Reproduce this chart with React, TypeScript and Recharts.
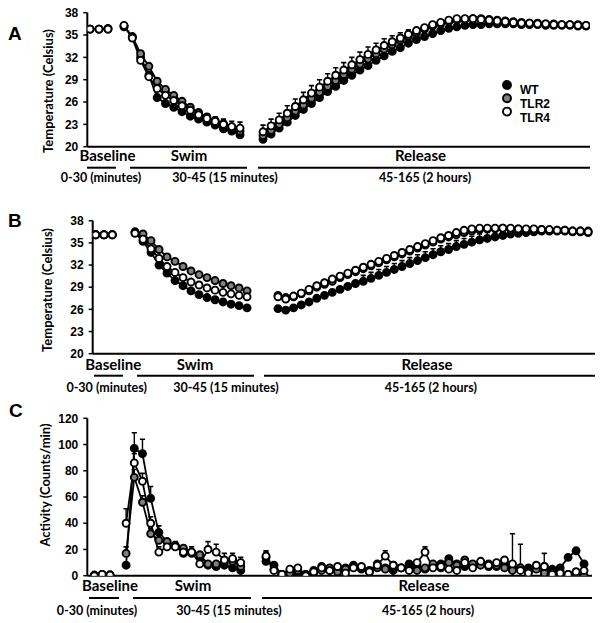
import React from 'react';
import { LineChart, Line, XAxis, YAxis } from 'recharts';

const SERIES = ['WT', 'TLR2', 'TLR4'];
const FILLS: Record<string, string> = { WT: '#000000', TLR2: '#808080', TLR4: '#ffffff' };
const SECTION_LABELS = ['Baseline', 'Swim', 'Release'];
const SECTION_RANGES = ['0-30 (minutes)', '30-45 (15 minutes)', '45-165 (2 hours)'];
const TEMP_TICKS = [20, 23, 26, 29, 32, 35, 38];
const ACT_TICKS = [0, 20, 40, 60, 80, 100, 120];

// ---------- Panel A : temperature ----------
const A_WT_base = [35.8, 35.8, 35.8];
const A_TLR2_base = [35.8, 35.8, 35.9];
const A_TLR4_base = [35.8, 35.8, 35.8];
const A_base_err = [0.1, 0.1, 0.1];
const A_WT_swim = [36.2, 34.7, 32.0, 29.6, 26.6, 25.8, 25.3, 24.7, 24.1, 23.7, 23.3, 22.9, 22.4, 22.1, 21.6];
const A_TLR2_swim = [36.1, 34.8, 32.5, 30.8, 28.8, 27.7, 26.9, 26.1, 25.3, 24.6, 24.0, 23.5, 23.1, 22.6, 22.1];
const A_TLR4_swim = [36.3, 34.6, 31.6, 29.4, 27.8, 26.9, 26.2, 25.5, 24.9, 24.3, 23.8, 23.4, 23.0, 22.7, 22.5];
const A_WT_swimErr = [0.2, 0.2, 0.3, 0.3, 0.3, 0.3, 0.3, 0.3, 0.3, 0.3, 0.3, 0.3, 0.3, 0.3, 0.3];
const A_TLR2_swimErr = [0.2, 0.2, 0.3, 0.3, 0.3, 0.3, 0.3, 0.3, 0.3, 0.3, 0.3, 0.3, 0.3, 0.3, 0.3];
const A_TLR4_swimErr = [0.2, 0.2, 0.3, 0.4, 0.4, 0.4, 0.5, 0.5, 0.5, 0.6, 0.6, 0.6, 0.7, 0.7, 0.8];
const A_WT_rel = [21.0, 21.7, 22.5, 23.3, 24.2, 25.0, 25.8, 26.6, 27.4, 28.1, 28.9, 29.6, 30.3, 30.9, 31.6, 32.2, 32.8, 33.3, 33.9, 34.4, 34.8, 35.2, 35.6, 35.9, 36.1, 36.3, 36.4, 36.4, 36.5, 36.5, 36.5, 36.5, 36.4, 36.4, 36.4, 36.3, 36.3, 36.3, 36.3, 36.2, 36.2];
const A_TLR2_rel = [21.5, 22.2, 23.0, 23.9, 24.8, 25.6, 26.5, 27.3, 28.1, 28.9, 29.7, 30.4, 31.1, 31.8, 32.5, 33.1, 33.7, 34.3, 34.8, 35.3, 35.8, 36.2, 36.5, 36.8, 37.0, 37.1, 37.2, 37.2, 37.1, 37.0, 36.9, 36.8, 36.7, 36.6, 36.6, 36.5, 36.5, 36.4, 36.4, 36.4, 36.3];
const A_TLR4_rel = [22.0, 22.8, 23.6, 24.5, 25.4, 26.3, 27.2, 28.0, 28.8, 29.6, 30.3, 31.0, 31.7, 32.4, 33.0, 33.6, 34.1, 34.6, 35.1, 35.6, 36.0, 36.4, 36.7, 37.0, 37.2, 37.2, 37.2, 37.1, 37.0, 36.9, 36.8, 36.7, 36.6, 36.6, 36.5, 36.5, 36.4, 36.4, 36.4, 36.3, 36.3];
const A_WT_relErr = [0.3, 0.3, 0.3, 0.3, 0.3, 0.3, 0.3, 0.3, 0.3, 0.3, 0.3, 0.3, 0.3, 0.3, 0.3, 0.3, 0.3, 0.3, 0.3, 0.3, 0.3, 0.3, 0.3, 0.2, 0.2, 0.2, 0.2, 0.2, 0.2, 0.2, 0.2, 0.2, 0.2, 0.2, 0.2, 0.2, 0.2, 0.2, 0.2, 0.2, 0.2];
const A_TLR2_relErr = [0.4, 0.4, 0.4, 0.4, 0.4, 0.4, 0.4, 0.4, 0.4, 0.4, 0.4, 0.4, 0.4, 0.4, 0.4, 0.4, 0.4, 0.4, 0.3, 0.3, 0.3, 0.3, 0.3, 0.2, 0.2, 0.2, 0.2, 0.2, 0.2, 0.2, 0.2, 0.2, 0.2, 0.2, 0.2, 0.2, 0.2, 0.2, 0.2, 0.2, 0.2];
const A_TLR4_relErr = [0.9, 0.9, 0.9, 1.0, 1.0, 1.0, 1.0, 1.0, 1.0, 1.0, 1.0, 1.0, 1.0, 1.0, 0.9, 0.9, 0.8, 0.7, 0.6, 0.5, 0.4, 0.3, 0.3, 0.2, 0.2, 0.2, 0.2, 0.2, 0.2, 0.2, 0.2, 0.2, 0.2, 0.2, 0.2, 0.2, 0.2, 0.2, 0.2, 0.2, 0.2];

// ---------- Panel B : temperature ----------
const B_WT_base = [36.1, 36.1, 36.1];
const B_TLR2_base = [36.1, 36.1, 36.1];
const B_TLR4_base = [36.1, 36.1, 36.1];
const B_base_err = [0.1, 0.1, 0.1];
const B_WT_swim = [36.4, 35.2, 33.7, 32.0, 30.9, 29.9, 29.2, 28.5, 28.0, 27.6, 27.3, 27.0, 26.7, 26.5, 26.2];
const B_TLR2_swim = [36.5, 36.2, 35.3, 34.1, 33.1, 32.5, 31.8, 31.2, 30.7, 30.3, 29.9, 29.5, 29.2, 28.9, 28.5];
const B_TLR4_swim = [36.3, 35.5, 34.2, 32.9, 31.8, 31.0, 30.3, 29.7, 29.3, 28.9, 28.6, 28.3, 28.1, 27.9, 27.7];
const B_swimErr = [0.2, 0.2, 0.2, 0.2, 0.2, 0.2, 0.2, 0.2, 0.2, 0.2, 0.2, 0.2, 0.2, 0.2, 0.2];
const B_WT_rel = [26.1, 25.9, 26.2, 26.6, 27.0, 27.5, 27.9, 28.3, 28.7, 29.1, 29.5, 29.8, 30.2, 30.6, 31.0, 31.4, 31.8, 32.2, 32.6, 33.0, 33.4, 33.8, 34.1, 34.5, 34.8, 35.1, 35.4, 35.6, 35.8, 36.0, 36.2, 36.3, 36.4, 36.5, 36.6, 36.6, 36.6, 36.6, 36.5, 36.5, 36.4];
const B_TLR2_rel = [27.9, 27.6, 27.7, 28.1, 28.5, 29.0, 29.4, 29.8, 30.3, 30.7, 31.1, 31.5, 31.9, 32.3, 32.7, 33.1, 33.5, 33.9, 34.3, 34.7, 35.1, 35.5, 35.8, 36.1, 36.4, 36.6, 36.8, 36.9, 36.9, 37.0, 36.9, 36.9, 36.8, 36.8, 36.8, 36.7, 36.7, 36.7, 36.6, 36.6, 36.6];
const B_TLR4_rel = [27.7, 27.4, 27.8, 28.2, 28.7, 29.2, 29.6, 30.1, 30.5, 30.9, 31.3, 31.7, 32.1, 32.5, 32.9, 33.3, 33.7, 34.1, 34.5, 34.9, 35.3, 35.7, 36.0, 36.4, 36.7, 36.9, 37.0, 37.0, 37.0, 37.0, 37.0, 36.9, 36.9, 36.9, 36.8, 36.8, 36.7, 36.7, 36.6, 36.6, 36.5];
const B_WT_relErr = [0.3, 0.3, 0.3, 0.3, 0.3, 0.3, 0.3, 0.3, 0.3, 0.3, 0.5, 0.8, 0.8, 0.8, 0.8, 0.8, 0.8, 0.8, 0.8, 0.8, 0.8, 0.8, 0.8, 0.8, 0.8, 0.8, 0.8, 0.8, 0.8, 0.8, 0.8, 0.7, 0.6, 0.5, 0.3, 0.3, 0.3, 0.3, 0.3, 0.3, 0.3];
const B_other_relErr = [0.2, 0.2, 0.2, 0.2, 0.2, 0.2, 0.2, 0.2, 0.2, 0.2, 0.2, 0.2, 0.2, 0.2, 0.2, 0.2, 0.2, 0.2, 0.2, 0.2, 0.2, 0.2, 0.2, 0.2, 0.2, 0.2, 0.2, 0.2, 0.2, 0.2, 0.2, 0.2, 0.2, 0.2, 0.2, 0.2, 0.2, 0.2, 0.2, 0.2, 0.2];

// ---------- Panel C : activity ----------
const C_WT_base = [0, 0.5, 0.5];
const C_TLR2_base = [0.5, 1, 0.5];
const C_TLR4_base = [0, 1, 0.5];
const C_base_err = [0.5, 0.5, 0.5];
const C_WT_swim = [8, 97, 93, 59, 33, 26, 23, 17, 17, 15, 8, 7, 8, 6, 4];
const C_TLR2_swim = [17, 75, 56, 32, 27, 26, 23, 21, 18, 16, 9, 9, 11, 11, 7];
const C_TLR4_swim = [40, 86, 72, 40, 18, 22, 22, 18, 18, 9, 20, 18, 12, 13, 10];
const C_WT_swimErr = [2, 12, 11, 9, 5, 3, 3, 3, 3, 3, 2, 2, 2, 2, 2];
const C_TLR2_swimErr = [5, 6, 5, 4, 3, 3, 3, 3, 3, 3, 2, 2, 2, 2, 2];
const C_TLR4_swimErr = [11, 7, 6, 5, 4, 4, 4, 4, 4, 4, 6, 6, 5, 4, 4];
const C_WT_rel = [11, 8, 1, 3, 2, 1, 2, 7, 4, 5, 6, 8, 5, 4, 9, 6, 4, 6, 9, 7, 5, 8, 9, 13, 9, 7, 8, 10, 9, 7, 8, 5, 6, 6, 6, 7, 5, 6, 14, 19, 9];
const C_TLR2_rel = [14, 5, 1, 2, 4, 1, 4, 4, 6, 3, 5, 7, 6, 3, 6, 5, 8, 6, 5, 4, 6, 9, 6, 10, 8, 12, 9, 8, 7, 8, 6, 4, 6, 3, 5, 2, 1, 3, 1, 1, 0];
const C_TLR4_rel = [15, 4, 1, 5, 6, 0, 3, 6, 4, 7, 2, 6, 7, 3, 8, 15, 8, 6, 4, 10, 18, 6, 7, 5, 4, 10, 6, 11, 8, 10, 12, 9, 4, 2, 8, 7, 1, 2, 1, 3, 4];
const C_WT_relErr = [4, 2, 1, 1, 1, 1, 1, 2, 2, 2, 2, 2, 2, 2, 2, 2, 2, 2, 2, 2, 2, 2, 2, 2, 2, 2, 2, 2, 2, 2, 2, 2, 18, 2, 2, 2, 2, 2, 2, 3, 2];
const C_TLR2_relErr = [4, 2, 1, 1, 1, 1, 1, 2, 2, 2, 2, 2, 2, 2, 2, 2, 2, 2, 2, 2, 2, 2, 2, 5, 2, 2, 2, 2, 2, 2, 2, 2, 2, 2, 2, 2, 2, 2, 2, 1, 1];
const C_TLR4_relErr = [4, 2, 1, 2, 3, 1, 1, 2, 2, 2, 2, 2, 2, 2, 2, 4, 2, 2, 2, 2, 4, 2, 2, 2, 2, 2, 2, 2, 2, 2, 2, 23, 2, 2, 2, 10, 2, 2, 1, 1, 1];

type Sec = { WT: number[]; TLR2: number[]; TLR4: number[]; eWT: number[]; eTLR2: number[]; eTLR4: number[] };

function buildRows(secs: Sec[], starts: number[], steps: number[]) {
  const rows: any[] = [];
  secs.forEach((s, k) => {
    if (k > 0) rows.push({ x: starts[k] - 1, WT: null, TLR2: null, TLR4: null });
    s.WT.forEach((_, i) => {
      rows.push({
        x: starts[k] + i * steps[k],
        WT: s.WT[i], TLR2: s.TLR2[i], TLR4: s.TLR4[i],
        eWT: s.eWT[i], eTLR2: s.eTLR2[i], eTLR4: s.eTLR4[i],
      });
    });
  });
  return rows;
}

const rowsA = buildRows(
  [
    { WT: A_WT_base, TLR2: A_TLR2_base, TLR4: A_TLR4_base, eWT: A_base_err, eTLR2: A_base_err, eTLR4: A_base_err },
    { WT: A_WT_swim, TLR2: A_TLR2_swim, TLR4: A_TLR4_swim, eWT: A_WT_swimErr, eTLR2: A_TLR2_swimErr, eTLR4: A_TLR4_swimErr },
    { WT: A_WT_rel, TLR2: A_TLR2_rel, TLR4: A_TLR4_rel, eWT: A_WT_relErr, eTLR2: A_TLR2_relErr, eTLR4: A_TLR4_relErr },
  ],
  [0, 4.2, 21.36],
  [1.11, 1.023, 0.997]
);
const rowsB = buildRows(
  [
    { WT: B_WT_base, TLR2: B_TLR2_base, TLR4: B_TLR4_base, eWT: B_base_err, eTLR2: B_base_err, eTLR4: B_base_err },
    { WT: B_WT_swim, TLR2: B_TLR2_swim, TLR4: B_TLR4_swim, eWT: B_swimErr, eTLR2: B_swimErr, eTLR4: B_swimErr },
    { WT: B_WT_rel, TLR2: B_TLR2_rel, TLR4: B_TLR4_rel, eWT: B_WT_relErr, eTLR2: B_other_relErr, eTLR4: B_other_relErr },
  ],
  [0, 5.04, 23.37],
  [1.064, 1.026, 0.994]
);
const rowsC = buildRows(
  [
    { WT: C_WT_base, TLR2: C_TLR2_base, TLR4: C_TLR4_base, eWT: C_base_err, eTLR2: C_base_err, eTLR4: C_base_err },
    { WT: C_WT_swim, TLR2: C_TLR2_swim, TLR4: C_TLR4_swim, eWT: C_WT_swimErr, eTLR2: C_TLR2_swimErr, eTLR4: C_TLR4_swimErr },
    { WT: C_WT_rel, TLR2: C_TLR2_rel, TLR4: C_TLR4_rel, eWT: C_WT_relErr, eTLR2: C_TLR2_relErr, eTLR4: C_TLR4_relErr },
  ],
  [0, 4.0, 21.6],
  [0.99, 1.03, 1.0]
);

const TICK_FONT = { fontSize: 12, fontWeight: 700, fill: '#000', fontFamily: '"Liberation Sans", Arial, sans-serif' };
const DOT_R = 3.5;

function Panel(props: any) {
  const { top, height, plotTop, plotBottom, axisX, right, x0, step, yDomain, yTicks, rows } = props;
  const margin = { top: plotTop - top, bottom: top + height - plotBottom - 1, left: axisX - 40, right: 604 - right };
  const domainX = [-(x0 - axisX) / step, (right - x0) / step];
  const pxPerUnit = (plotBottom - plotTop) / (yDomain[1] - yDomain[0]);

  // upward-only error bar, drawn beneath the markers
  const errDot = (s: string) => (p: any) => {
    const e = p.payload ? p.payload['e' + s] : null;
    if (p.cx == null || p.cy == null || e == null) return <g key={`e-${s}-${p.index}`} />;
    const len = e * pxPerUnit;
    if (len < DOT_R + 0.5) return <g key={`e-${s}-${p.index}`} />;
    const topY = p.cy - len;
    return (
      <g key={`e-${s}-${p.index}`}>
        <line x1={p.cx} x2={p.cx} y1={p.cy} y2={topY} stroke="#000" strokeWidth={1.4} />
        <line x1={p.cx - 2.6} x2={p.cx + 2.6} y1={topY} y2={topY} stroke="#000" strokeWidth={1.6} />
      </g>
    );
  };

  return (
    <div style={{ position: 'absolute', left: 0, top }}>
      <LineChart width={604} height={height} data={rows} margin={margin}>
        <XAxis type="number" dataKey="x" domain={domainX} allowDataOverflow tick={false} tickLine={false} height={1}
          axisLine={{ stroke: '#000', strokeWidth: 2 }} />
        <YAxis type="number" domain={yDomain} ticks={yTicks} interval={0} width={40} tickSize={4} tickMargin={5}
          allowDataOverflow axisLine={{ stroke: '#000', strokeWidth: 2 }} tickLine={{ stroke: '#000', strokeWidth: 1.5 }}
          tick={TICK_FONT} />
        {SERIES.map((s) => (
          <Line key={'err' + s} dataKey={s} type="linear" stroke="none" isAnimationActive={false}
            connectNulls={false} activeDot={false} legendType="none" dot={errDot(s)} />
        ))}
        {SERIES.map((s) => (
          <Line key={s} dataKey={s} type="linear" stroke="#000" strokeWidth={1.8} isAnimationActive={false}
            connectNulls={false} activeDot={false}
            dot={{ r: DOT_R, fill: FILLS[s], stroke: '#000', strokeWidth: 1.9 }} />
        ))}
      </LineChart>
    </div>
  );
}

const LABEL_FONT = 'Lato, "Open Sans", sans-serif';

function Annotations(props: any) {
  const { secY, lineY, rangeY, secX, rangeX, lines } = props;
  return (
    <g>
      {SECTION_LABELS.map((t, i) => (
        <text key={t} x={secX[i]} y={secY} textAnchor="middle" dominantBaseline="central"
          style={{ fontFamily: LABEL_FONT, fontSize: 15, fontWeight: 700 }} fill="#000">{t}</text>
      ))}
      {lines.map((l: number[], i: number) => (
        <line key={i} x1={l[0]} x2={l[1]} y1={lineY} y2={lineY} stroke="#000" strokeWidth={2} />
      ))}
      {SECTION_RANGES.map((t, i) => (
        <text key={t} x={rangeX[i]} y={rangeY} textAnchor="middle" dominantBaseline="central"
          style={{ fontFamily: LABEL_FONT, fontSize: 12.5, fontWeight: 700 }} fill="#000">{t}</text>
      ))}
    </g>
  );
}

function YLabel({ x, y, text }: any) {
  return (
    <text x={x} y={y} transform={`rotate(-90 ${x} ${y})`} textAnchor="middle" dominantBaseline="central"
      style={{ fontFamily: LABEL_FONT, fontSize: 13, fontWeight: 700 }} fill="#000">{text}</text>
  );
}

function PanelLetter({ x, y, text }: any) {
  return (
    <text x={x} y={y} dominantBaseline="central"
      style={{ fontFamily: '"Liberation Sans", Arial, sans-serif', fontSize: 19, fontWeight: 700 }} fill="#000">{text}</text>
  );
}

export default function App() {
  return (
    <div style={{ position: 'absolute', left: 0, top: 0, width: 604, height: 623, background: '#fff', overflow: 'hidden' }}>
      <Panel top={0} height={160} plotTop={12.7} plotBottom={146.7} axisX={87.3} right={590} x0={90} step={8.1}
        yDomain={[20, 38]} yTicks={TEMP_TICKS} rows={rowsA} />
      <Panel top={200} height={170} plotTop={220.7} plotBottom={353.7} axisX={92.7} right={595} x0={95.7} step={7.8}
        yDomain={[20, 38]} yTicks={TEMP_TICKS} rows={rowsB} />
      <Panel top={400} height={190} plotTop={418.3} plotBottom={575.7} axisX={87.3} right={592} x0={94.3} step={7.95}
        yDomain={[0, 120]} yTicks={ACT_TICKS} rows={rowsC} />
      <svg width={604} height={623} style={{ position: 'absolute', left: 0, top: 0, pointerEvents: 'none' }}>
        <PanelLetter x={8} y={33} text="A" />
        <PanelLetter x={8} y={220} text="B" />
        <PanelLetter x={9} y={410} text="C" />
        <YLabel x={48} y={91} text="Temperature (Celsius)" />
        <YLabel x={47} y={290} text="Temperature (Celsius)" />
        <YLabel x={45} y={485} text="Activity (Counts/min)" />
        <Annotations secY={155} lineY={167.7} rangeY={177.7} secX={[107.5, 189, 420.5]} rangeX={[101, 225, 425]}
          lines={[[87, 116], [130, 247], [258, 590]]} />
        <Annotations secY={364} lineY={375.7} rangeY={387} secX={[113.3, 195, 427]} rangeX={[106.7, 226, 430.8]}
          lines={[[94, 123], [137, 254], [264, 595]]} />
        <Annotations secY={585} lineY={598} rangeY={610} secX={[110, 193, 424]} rangeX={[97, 229, 428]}
          lines={[[89, 119], [133, 251], [262, 592]]} />
        {SERIES.map((s, i) => (
          <g key={s}>
            <circle cx={507} cy={85 + i * 13.3} r={4} fill={FILLS[s]} stroke="#000" strokeWidth={1.9} />
            <text x={520} y={90 + i * 14.2} dominantBaseline="central"
              style={{ fontFamily: '"Liberation Sans", Arial, sans-serif', fontSize: 12, fontWeight: 700 }} fill="#000">{s}</text>
          </g>
        ))}
      </svg>
    </div>
  );
}
